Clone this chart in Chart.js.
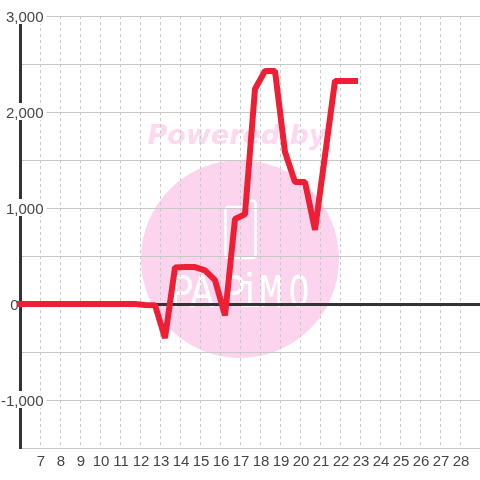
<!DOCTYPE html>
<html>
<head>
<meta charset="utf-8">
<script src="https://cdn.jsdelivr.net/npm/chart.js@4/dist/chart.umd.min.js"></script>
<style>
  html, body { margin: 0; padding: 0; background: #fff; }
  canvas { display: block; }
</style>
</head>
<body>
<canvas id="myChart" width="480" height="480"></canvas>
<script>
var xValues = [5.75, 6.75, 7.75, 8.75, 9.75, 10.75, 11.75, 12.25, 12.75, 13.25, 13.75, 14.25, 14.75, 15.25, 15.75, 16.25, 16.75, 17.25, 17.75, 18.25, 18.75, 19.25, 19.75, 20.25, 20.75, 21.75, 22.25, 22.75];
var yValues = [0, 0, 0, 0, 0, 0, 0, -10, -12, -355, 380, 385, 385, 350, 248, -120, 886, 935, 2240, 2427, 2427, 1583, 1270, 1270, 772, 2323, 2323, 2323];
var xLabels = [7, 8, 9, 10, 11, 12, 13, 14, 15, 16, 17, 18, 19, 20, 21, 22, 23, 24, 25, 26, 27, 28];
var yLabels = [-1000, 0, 1000, 2000, 3000];

var points = [];
for (var i = 0; i < xValues.length; i++) {
    points.push({ x: xValues[i], y: yValues[i] });
}

// watermark sits under the grid
var watermark = {
    id: 'watermark',
    beforeDraw: function(chart) {
        var ctx = chart.ctx;
        ctx.save();
        ctx.fillStyle = '#fdd4ee';
        ctx.beginPath();
        ctx.arc(240, 259, 99, 0, Math.PI * 2);
        ctx.fill();

        ctx.fillStyle = '#fdd8ef';
        ctx.font = 'italic bold 27px "DejaVu Sans"';
        ctx.textAlign = 'center';
        ctx.textBaseline = 'alphabetic';
        ctx.fillText('Powered by', 237, 144);

        // logo outline, the right side stands a bit taller
        ctx.strokeStyle = '#fff';
        ctx.lineWidth = 2.5;
        ctx.beginPath();
        ctx.moveTo(240, 258);
        ctx.arcTo(225.5, 258, 225.5, 207, 3);
        ctx.arcTo(225.5, 207, 249, 207, 3);
        ctx.lineTo(249, 207);
        ctx.arcTo(249, 200.5, 255.5, 200.5, 3);
        ctx.arcTo(255.5, 200.5, 255.5, 258, 3);
        ctx.arcTo(255.5, 258, 240, 258, 3);
        ctx.closePath();
        ctx.stroke();

        var letters = ['P', 'A', 'P', 'i', 'M', 'O'];
        var letterX = [182, 202, 234, 249, 271, 299];
        ctx.fillStyle = '#fff';
        ctx.font = '40px "Liberation Mono"';
        for (var i = 0; i < letters.length; i++) {
            ctx.save();
            ctx.translate(letterX[i], 306.5);
            ctx.scale(letters[i] === 'O' ? 0.85 : 1, 1.2);
            ctx.fillText(letters[i], 0, 0);
            ctx.restore();
        }
        ctx.restore();
    }
};

var ctx = document.getElementById('myChart').getContext('2d');
var myChart = new Chart(ctx, {
    type: 'line',
    plugins: [watermark],
    data: {
        datasets: [{
            data: points,
            borderColor: '#ee1f35',
            borderWidth: 6,
            borderCapStyle: 'square',
            borderJoinStyle: 'bevel',
            pointRadius: 0,
            tension: 0,
            clip: { left: 3, top: 3, right: 0, bottom: 0 }
        }]
    },
    options: {
        responsive: false,
        animation: false,
        layout: { autoPadding: false, padding: { top: 16 } },
        plugins: { legend: { display: false }, tooltip: { enabled: false } },
        scales: {
            x: {
                type: 'linear',
                min: 6,
                max: 29,
                afterFit: function(scale) {
                    scale.height = 32;
                    scale.paddingLeft = 0;
                    scale.paddingRight = 0;
                },
                border: { display: false, dash: [3, 3] },
                grid: { color: '#c8c8c8', lineWidth: 1, drawTicks: false },
                ticks: {
                    stepSize: 1,
                    autoSkip: false,
                    maxRotation: 0,
                    padding: 5,
                    labelOffset: 1,
                    color: '#444',
                    font: { family: '"Liberation Sans"', size: 15 },
                    callback: function(value) {
                        return xLabels.indexOf(value) >= 0 ? String(value) : '';
                    }
                }
            },
            y: {
                min: -1500,
                max: 3000,
                afterFit: function(scale) { scale.width = 20; },
                border: { color: '#333', width: 3, z: -1 },
                grid: {
                    drawTicks: false,
                    color: function(c) { return c.tick.value === 0 ? '#333' : '#c8c8c8'; },
                    lineWidth: function(c) { return c.tick.value === 0 ? 3 : 1; }
                },
                ticks: {
                    stepSize: 500,
                    autoSkip: false,
                    mirror: true,
                    crossAlign: 'far',
                    padding: -19,
                    labelOffset: 2,
                    color: '#444',
                    font: { family: '"Liberation Sans"', size: 15 },
                    showLabelBackdrop: function(c) {
                        return c.tick.value !== 0 && yLabels.indexOf(c.tick.value) >= 0;
                    },
                    backdropColor: '#fff',
                    backdropPadding: { top: 2, bottom: -3, left: 2, right: 3 },
                    callback: function(value) {
                        if (yLabels.indexOf(value) < 0) return '';
                        // zero sits left of the axis, the spaces push it there
                        if (value === 0) return '0      ';
                        return value.toLocaleString('en-US');
                    }
                }
            }
        }
    }
});
</script>
</body>
</html>
